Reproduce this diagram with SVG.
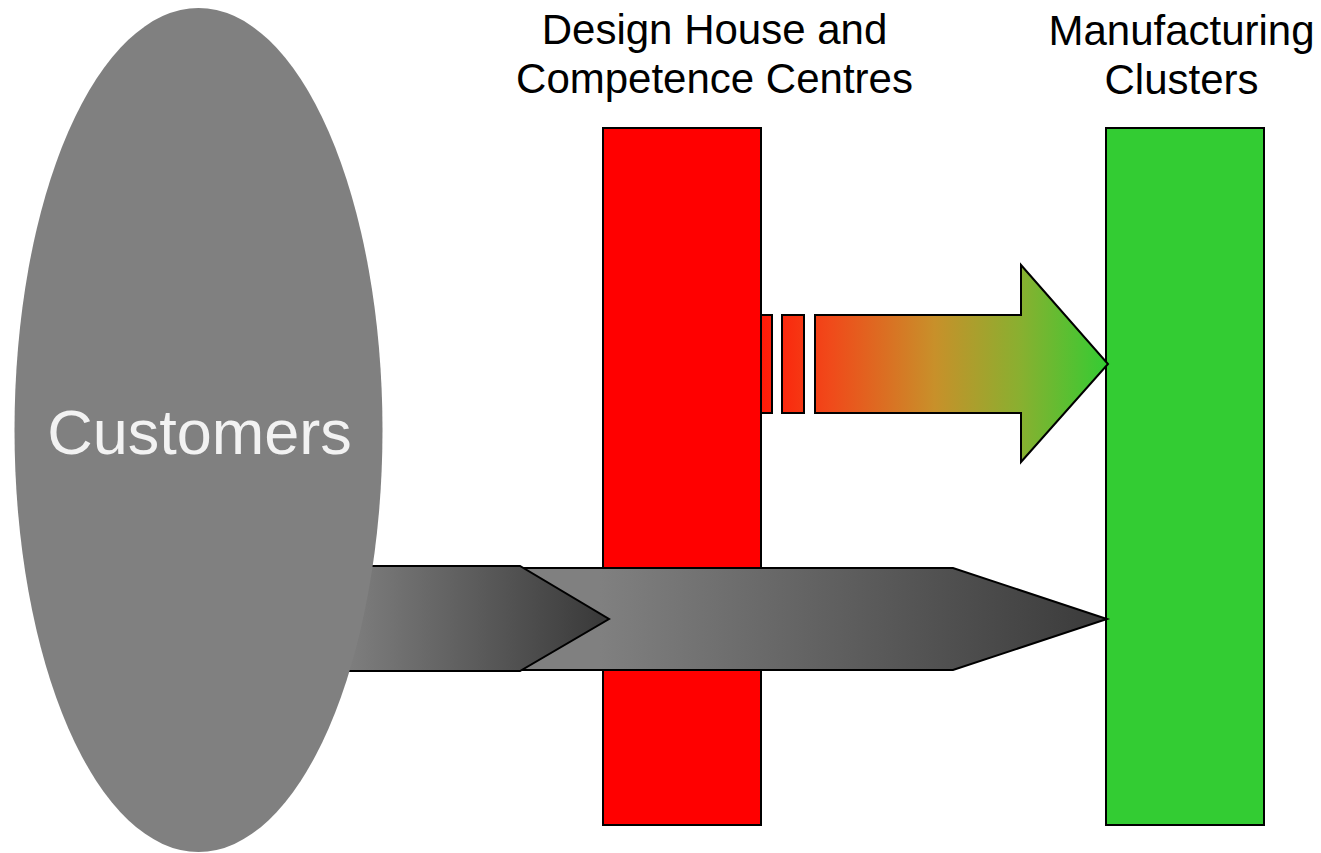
<svg xmlns="http://www.w3.org/2000/svg" width="1321" height="853" viewBox="0 0 1321 853">
<style>
.lbl{font-family:"Liberation Sans",Arial,sans-serif;font-size:42px;fill:#000;text-anchor:middle}
.cust{font-family:"Liberation Sans",Arial,sans-serif;font-size:63px;fill:#f2f2f2;text-anchor:middle}
.bar{stroke:#000;stroke-width:2}
.arr{stroke:#000;stroke-width:2;stroke-linejoin:miter}
</style>
<defs>
<linearGradient id="gRG" gradientUnits="userSpaceOnUse" x1="761" y1="0" x2="1108" y2="0">
<stop offset="0" stop-color="#ff1a08"/>
<stop offset="0.2" stop-color="#f04a1a"/>
<stop offset="0.5" stop-color="#c8902a"/>
<stop offset="0.75" stop-color="#88b030"/>
<stop offset="1" stop-color="#33cc33"/>
</linearGradient>
<linearGradient id="gG1" gradientUnits="userSpaceOnUse" x1="340" y1="0" x2="609" y2="0">
<stop offset="0" stop-color="#808080"/>
<stop offset="1" stop-color="#383838"/>
</linearGradient>
<linearGradient id="gG2" gradientUnits="userSpaceOnUse" x1="600" y1="0" x2="1107" y2="0">
<stop offset="0" stop-color="#808080"/>
<stop offset="1" stop-color="#3a3a3a"/>
</linearGradient>
</defs>
<g id="design-house">
<rect class="bar" x="603" y="128" width="158" height="697" fill="#ff0000"/>
<text class="lbl" x="714.5" y="44">Design House and</text>
<text class="lbl" x="714.5" y="93">Competence Centres</text>
</g>
<g id="manufacturing">
<rect class="bar" x="1106" y="128" width="158" height="697" fill="#33cc33"/>
<text class="lbl" x="1181.5" y="45">Manufacturing</text>
<text class="lbl" x="1181.5" y="94">Clusters</text>
</g>
<g id="connectors">
<g id="flow-design-to-manufacturing">
<rect class="arr" x="761" y="315" width="11" height="98" fill="url(#gRG)"/>
<rect class="arr" x="782" y="315" width="22" height="98" fill="url(#gRG)"/>
<path class="arr" d="M815 315 H1021 V265 L1108 364 L1021 462 V413 H815 Z" fill="url(#gRG)"/>
</g>
<g id="flow-customers-to-manufacturing">
<path class="arr" d="M520 568 H953 L1107 619 L953 670 H520 Z" fill="url(#gG2)"/>
</g>
<g id="flow-customers-to-design">
<path class="arr" d="M340 566 H520 L609 619 L520 671 H340 Z" fill="url(#gG1)"/>
</g>
</g>
<g id="customers">
<ellipse cx="198.5" cy="430" rx="184" ry="422" fill="#808080"/>
<text class="cust" x="199.5" y="454">Customers</text>
</g>
</svg>
